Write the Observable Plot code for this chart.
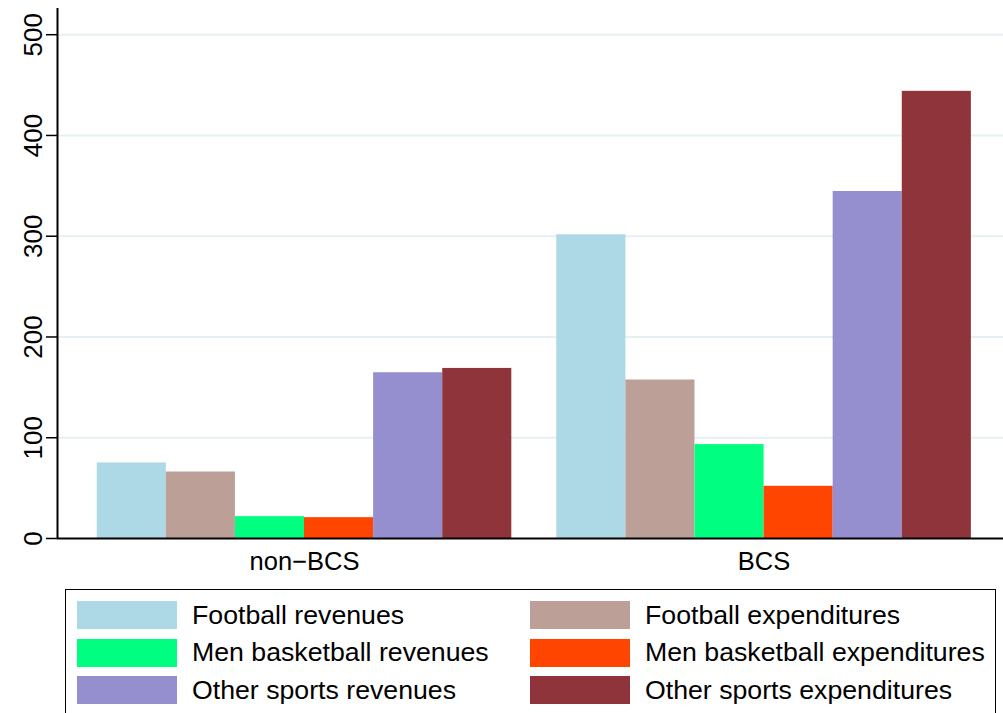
<!DOCTYPE html>
<html><head><meta charset="utf-8">
<script src="https://cdn.jsdelivr.net/npm/d3@7"></script>
<script src="https://cdn.jsdelivr.net/npm/@observablehq/plot@0.6"></script>
<style>
html,body{margin:0;padding:0;background:#fff;overflow:hidden;}
body{width:1003px;height:713px;position:relative;font-family:"Liberation Sans",Arial,Helvetica,sans-serif;}
#chart svg{display:block;font-family:"Liberation Sans",Arial,Helvetica,sans-serif;}
#legend{position:absolute;left:65px;top:589px;width:931px;height:150px;border:1.5px solid #000;box-sizing:border-box;background:#fff;}
.item{position:absolute;display:flex;align-items:center;height:28px;font-size:26.7px;color:#000;white-space:nowrap;}
.sw{width:100px;height:28px;margin-right:15px;flex:none;}
</style></head><body>
<div id="chart"></div>
<div id="legend"></div>
<script>
const groups = ["non\u2212BCS", "BCS"];
const series = [
  "Football revenues", "Football expenditures",
  "Men basketball revenues", "Men basketball expenditures",
  "Other sports revenues", "Other sports expenditures"
];
const nonBCSValues = [75, 66, 21.7, 20.7, 164.5, 168.8];
const bcsValues = [301.4, 157.3, 93.2, 51.8, 344.4, 443.8];
const colors = ["#add8e6", "#bca098", "#00ff80", "#ff4500", "#958fd0", "#8f343b"];
const yTicks = [0, 100, 200, 300, 400, 500];

// layout in "bar units": each bar is one unit wide, groups separated by a gap
const gapUnits = 0.651;
const groupStep = series.length + gapUnits;
const xDomain = [-0.575, 13.116];

const rows = [];
groups.forEach((g, gi) => {
  const vals = gi === 0 ? nonBCSValues : bcsValues;
  series.forEach((s, si) => {
    rows.push({group: g, series: s, value: vals[si], x1: gi * groupStep + si, x2: gi * groupStep + si + 1});
  });
});
const centers = groups.map((g, gi) => ({group: g, x: gi * groupStep + series.length / 2}));

const chart = Plot.plot({
  width: 1003,
  height: 585,
  marginLeft: 57,
  marginRight: 0,
  marginTop: 8,
  marginBottom: 47,
  style: {background: "#fff", color: "#000"},
  x: {type: "linear", domain: xDomain, axis: null},
  y: {domain: [0, 526], axis: null},
  color: {domain: series, range: colors},
  marks: [
    Plot.ruleY(yTicks.filter(d => d > 0), {stroke: "#e6eff1", strokeWidth: 2}),
    Plot.rectY(rows, {x1: "x1", x2: "x2", y: "value", fill: "series"}),
    Plot.ruleX([xDomain[0]], {stroke: "#000", strokeWidth: 2}),
    Plot.ruleY([0], {stroke: "#000", strokeWidth: 2}),
    Plot.axisY({ticks: yTicks, tickSize: 11, tickFormat: () => "", label: null, strokeWidth: 1.5}),
    Plot.text(yTicks, {y: d => d, text: d => String(d), frameAnchor: "left", rotate: -90, dx: -16,
      lineAnchor: "bottom", textAnchor: "middle", fontSize: 26, fill: "#000"}),
    Plot.text(centers, {x: "x", text: "group", frameAnchor: "bottom", lineAnchor: "top", dy: 13,
      fontSize: 25.5, fill: "#000"})
  ]
});
document.getElementById("chart").appendChild(chart);

const legend = document.getElementById("legend");
series.forEach((s, i) => {
  const row = Math.floor(i / 2), col = i % 2;
  const item = document.createElement("div");
  item.className = "item";
  item.style.left = (col === 0 ? 11 : 464) + "px";
  item.style.top = (11 + row * 37.5) + "px";
  const sw = document.createElement("div");
  sw.className = "sw";
  sw.style.background = colors[i];
  const label = document.createElement("span");
  label.textContent = s;
  item.appendChild(sw);
  item.appendChild(label);
  legend.appendChild(item);
});
</script>
</body></html>
